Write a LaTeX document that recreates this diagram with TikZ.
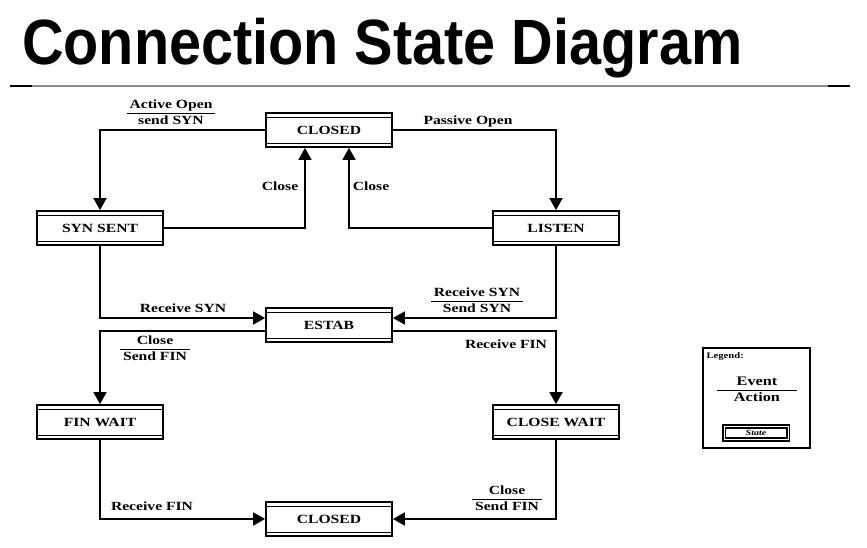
\documentclass[tikz,border=0pt]{standalone}
\usepackage{fontspec}
\setmainfont{Liberation Serif}[FakeStretch=1.25]
\newfontfamily\titlefont{Liberation Sans}[FakeStretch=0.9]
\usetikzlibrary{arrows.meta}
\begin{document}
\begin{tikzpicture}[x=1pt,y=1pt,
  state/.style={draw, line width=1.8pt, minimum width=126pt, minimum height=34pt, inner sep=0pt,
    font=\fontsize{12.5}{14}\selectfont\bfseries,
    path picture={\draw[line width=0.9pt]
      ([yshift=-4pt]path picture bounding box.north west) -- ([yshift=-4pt]path picture bounding box.north east);
      \draw[line width=0.9pt]
      ([yshift=4pt]path picture bounding box.south west) -- ([yshift=4pt]path picture bounding box.south east);}},
  conn/.style={line width=1.8pt, -{Triangle[length=12pt,width=13pt]}},
  lab/.style={font=\fontsize{12.5}{14}\selectfont\bfseries, inner sep=1pt},
  frac/.style={font=\fontsize{12.5}{13}\selectfont\bfseries, inner sep=0pt}
]
\useasboundingbox (0,0) rectangle (867,-548);
\setlength{\arrayrulewidth}{1.1pt}
\newcommand{\evfrac}[2]{\renewcommand{\arraystretch}{0.95}\begin{tabular}{@{\hspace{3pt}}c@{\hspace{3pt}}}#1\\[0.5pt]\hline\rule{0pt}{10.5pt}#2\end{tabular}}

% title and rule
\node[anchor=base west, inner sep=0pt, font=\titlefont\fontsize{64}{70}\selectfont\bfseries] (title) at (22,-65) {Connection State Diagram};
\coordinate (r1) at (10,-86);
\coordinate (r2) at (32,-86);
\coordinate (r3) at (828,-86);
\coordinate (r4) at (850,-86);
\draw[line width=2pt, black!45] (r2) -- (r3);
\draw[line width=2pt] (r1) -- (r2);
\draw[line width=2pt] (r3) -- (r4);

% states
\node[state] (closedT) at (329,-130) {CLOSED};
\node[state] (synsent) at (100,-228) {SYN SENT};
\node[state] (listen) at (556,-228) {LISTEN};
\node[state] (estab) at (329,-325) {ESTAB};
\node[state] (finwait) at (100,-422) {FIN WAIT};
\node[state] (closewait) at (556,-422) {CLOSE WAIT};
\node[state] (closedB) at (329,-519) {CLOSED};

% connectors
\draw[conn] (closedT.west) -| (synsent.north);
\draw[conn] (closedT.east) -| (listen.north);
\draw[conn] (synsent.east) -| ([xshift=-24pt]closedT.south);
\draw[conn] (listen.west) -| ([xshift=20pt]closedT.south);
\draw[conn] (synsent.south) |- ([yshift=7pt]estab.west);
\draw[conn] (listen.south) |- ([yshift=7pt]estab.east);
\draw[conn] ([yshift=-6pt]estab.west) -| (finwait.north);
\draw[conn] ([yshift=-6pt]estab.east) -| (closewait.north);
\draw[conn] (finwait.south) |- (closedB.west);
\draw[conn] (closewait.south) |- (closedB.east);

% labels
\node[frac] (l1) at (171,-114) {\evfrac{Active Open}{send SYN}};
\node[lab] (l2) at (468,-121) {Passive Open};
\node[lab] (l3) at (280,-186) {Close};
\node[lab] (l4) at (371,-186) {Close};
\node[lab] (l5) at (183,-308) {Receive SYN};
\node[frac] (l6) at (477,-302) {\evfrac{Receive SYN}{Send SYN}};
\node[frac] (l7) at (155,-350) {\evfrac{Close}{Send FIN}};
\node[lab] (l8) at (506,-344) {Receive FIN};
\node[lab] (l9) at (152,-506) {Receive FIN};
\node[frac] (l10) at (507,-500) {\evfrac{Close}{Send FIN}};

% legend
\node[draw, line width=1.2pt, minimum width=107pt, minimum height=100pt, inner sep=0pt] (legend) at (756.5,-398) {};
\node[anchor=north west, inner sep=0pt, font=\fontsize{8.5}{10}\selectfont\bfseries] (legtitle) at ([xshift=4pt,yshift=-5pt]legend.north west) {Legend:};
\node[frac, font=\fontsize{13}{14}\selectfont\bfseries] (legfrac) at (757,-391) {\renewcommand{\arraystretch}{0.95}\begin{tabular}{@{\hspace{17pt}}c@{\hspace{17pt}}}Event\\[0.5pt]\hline\rule{0pt}{11pt}Action\end{tabular}};
\node[draw, line width=1.8pt, double, double distance=0.6pt, minimum width=64pt, minimum height=13pt, inner sep=0pt, font=\fontsize{8}{9}\selectfont\bfseries\itshape] (legstate) at (756,-433) {State};
\end{tikzpicture}
\end{document}
